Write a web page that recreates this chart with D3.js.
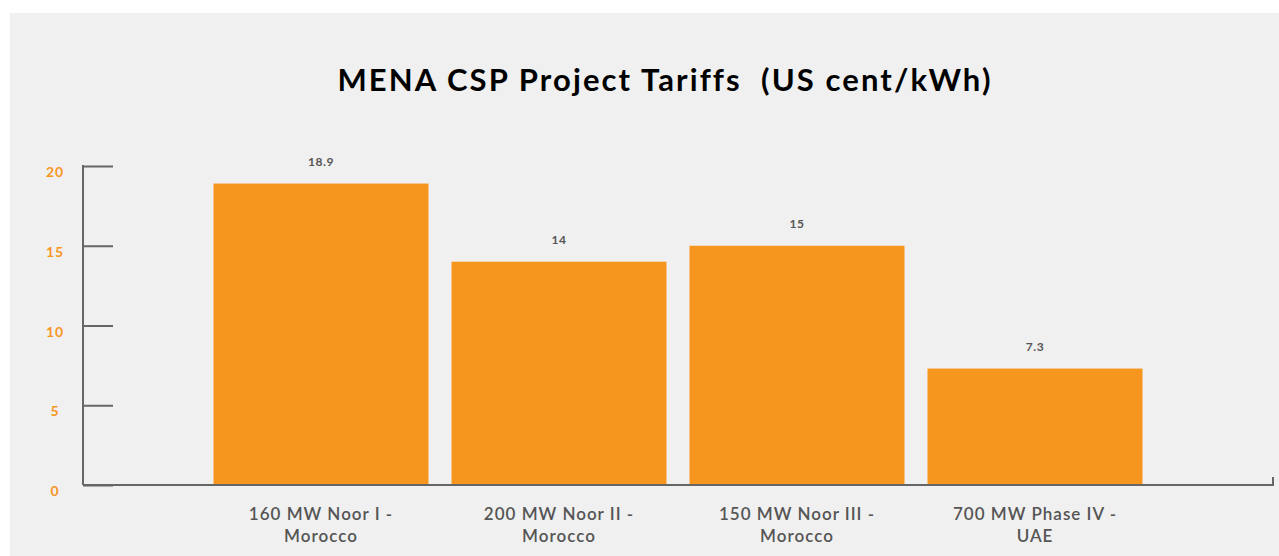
<!DOCTYPE html>
<html>
<head>
<meta charset="utf-8">
<script src="https://cdn.jsdelivr.net/npm/d3@7"></script>
<style>
  html, body { margin: 0; padding: 0; background: #fff; }
  svg { display: block; }
</style>
</head>
<body>
<div id="chart"></div>
<script>
var title = "MENA CSP Project Tariffs\u00a0\u00a0(US cent/kWh)";
var categories = [
    ["160 MW Noor I -", "Morocco"],
    ["200 MW Noor II -", "Morocco"],
    ["150 MW Noor III -", "Morocco"],
    ["700 MW Phase IV -", "UAE"]
];
var values = [18.9, 14, 15, 7.3];
var valueLabels = ["18.9", "14", "15", "7.3"];
var yTicks = [0, 5, 10, 15, 20];

(function() {
    var W = 1279, H = 556;
    var orange = '#f7961f', axisGrey = '#666', textGrey = '#555';
    var x0 = 83, x1 = 1273, yBase = 485, yTop = 166;

    var svg = d3.select('#chart').append('svg')
	.attr('width', W).attr('height', H);

    svg.append('rect')
	.attr('x', 10).attr('y', 13)
	.attr('width', W - 10).attr('height', H - 13)
	.attr('fill', '#f0f0f0');

    svg.append('text')
	.attr('x', 665).attr('y', 91)
	.attr('text-anchor', 'middle')
	.style('font-family', 'Lato, "Noto Sans", sans-serif')
	.style('font-weight', 'bold')
	.style('font-size', '31px')
	.style('letter-spacing', '2.1px')
	.attr('fill', '#000')
	.text(title);

    var ids = categories.map(function(c, i) { return i; });
    var step = (x1 - x0) / (categories.length + 1);
    var x = d3.scaleBand()
	.domain(ids)
	.range([x0 + step / 2, x1 - step / 2])
	.paddingInner(23 / 238)
	.paddingOuter(23 / 476);

    var y = d3.scaleLinear().domain([0, 20]).range([yBase, yTop]);

    // y axis
    var yAxis = svg.append('g')
	.attr('transform', 'translate(' + x0 + ',0)')
	.call(d3.axisRight(y).tickValues(yTicks).tickSize(30).tickFormat(''));
    yAxis.select('.domain').remove();
    yAxis.selectAll('.tick line')
	.attr('stroke', axisGrey).attr('stroke-width', 2);
    svg.append('line')
	.attr('x1', x0).attr('x2', x0)
	.attr('y1', y(20) - 1).attr('y2', yBase)
	.attr('stroke', axisGrey).attr('stroke-width', 2);

    svg.selectAll('text.ytick')
	.data(yTicks)
	.enter()
	.append('text')
	.attr('class', 'ytick')
	.attr('x', 55)
	.attr('y', function(d) { return y(d) + 11; })
	.attr('text-anchor', 'middle')
	.style('font-family', 'Lato, "Noto Sans", sans-serif')
	.style('font-weight', 'bold')
	.style('font-size', '14px')
	.style('letter-spacing', '1px')
	.attr('fill', orange)
	.text(function(d) { return d; });

    // bars
    svg.selectAll('rect.bar')
	.data(values)
	.enter()
	.append('rect')
	.attr('class', 'bar')
	.attr('x', function(d, i) { return x(i); })
	.attr('y', function(d) { return y(d); })
	.attr('width', x.bandwidth())
	.attr('height', function(d) { return yBase - y(d); })
	.attr('fill', orange);

    // x axis
    svg.append('path')
	.attr('d', 'M' + x0 + ',' + yBase + 'H' + x1 + 'V' + (yBase - 8))
	.attr('fill', 'none')
	.attr('stroke', axisGrey).attr('stroke-width', 2);

    svg.selectAll('text.val')
	.data(values)
	.enter()
	.append('text')
	.attr('class', 'val')
	.attr('x', function(d, i) { return x(i) + x.bandwidth() / 2; })
	.attr('y', function(d) { return y(d) - 18; })
	.attr('text-anchor', 'middle')
	.style('font-family', 'Lato, "Noto Sans", sans-serif')
	.style('font-weight', 'bold')
	.style('font-size', '12px')
	.style('letter-spacing', '0.6px')
	.attr('fill', textGrey)
	.text(function(d, i) { return valueLabels[i]; });

    var labels = svg.selectAll('text.cat')
	.data(categories)
	.enter()
	.append('text')
	.attr('class', 'cat')
	.attr('text-anchor', 'middle')
	.style('font-family', 'Lato, "Noto Sans", sans-serif')
	.style('font-weight', '600')
	.style('font-size', '17px')
	.style('letter-spacing', '1px')
	.attr('fill', textGrey);
    labels.each(function(c, i) {
	var t = d3.select(this);
	c.forEach(function(line, k) {
	    t.append('tspan')
		.attr('x', x(i) + x.bandwidth() / 2)
		.attr('y', 520 + k * 22)
		.text(line);
	});
    });
})();
</script>
</body>
</html>
